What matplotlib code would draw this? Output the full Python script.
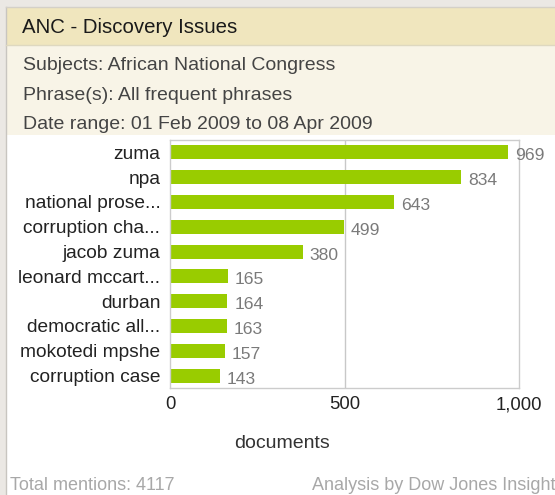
import matplotlib
matplotlib.use('Agg')
import matplotlib.pyplot as plt
import matplotlib.patches as mpatches

plt.rcParams['font.family'] = ['Liberation Sans', 'DejaVu Sans']

# data
phrases = ['zuma', 'npa', 'national prose...', 'corruption cha...', 'jacob zuma',
           'leonard mccart...', 'durban', 'democratic all...', 'mokotedi mpshe',
           'corruption case']
counts = [969, 834, 643, 499, 380, 165, 164, 163, 157, 143]
xticks = [0, 500, 1000]
xtick_labels = ['0', '500', '1,000']

W, H = 555, 495
fig = plt.figure(figsize=(W / 100, H / 100), dpi=100)
fig.patch.set_facecolor('white')

def fx(px):
    return px / W

def fy(py):
    return 1 - py / H

# background panels
fig.patches.append(mpatches.Rectangle((0, fy(7)), 1, 7 / H, transform=fig.transFigure,
                                      facecolor='#ebe8e4', edgecolor='none', zorder=0))
fig.patches.append(mpatches.Rectangle((0, 0), fx(6), 1, transform=fig.transFigure,
                                      facecolor='#ebe8e4', edgecolor='none', zorder=0))
fig.patches.append(mpatches.Rectangle((fx(6), fy(45)), 1, 38 / H, transform=fig.transFigure,
                                      facecolor='#f0e6be', edgecolor='none', zorder=0))
fig.patches.append(mpatches.Rectangle((fx(6), fy(135)), 1, 90 / H, transform=fig.transFigure,
                                      facecolor='#f8f4e7', edgecolor='none', zorder=0))
fig.add_artist(plt.Line2D([fx(6), fx(6)], [0, fy(7)], color='#c8c5c0', lw=1,
                          transform=fig.transFigure))
fig.add_artist(plt.Line2D([fx(6), 1], [fy(7), fy(7)], color='#d4d0c8', lw=1,
                          transform=fig.transFigure))
fig.add_artist(plt.Line2D([fx(6), 1], [fy(45), fy(45)], color='#ded8c0', lw=1,
                          transform=fig.transFigure))

# header texts
fig.text(fx(22), fy(33), 'ANC - Discovery Issues', fontsize=14.7, color='#1a1a1a',
         va='baseline', ha='left')
fig.text(fx(23), fy(70), 'Subjects: African National Congress', fontsize=14,
         color='#444444', va='baseline', ha='left')
fig.text(fx(23), fy(100), 'Phrase(s): All frequent phrases', fontsize=14,
         color='#444444', va='baseline', ha='left')
fig.text(fx(23), fy(129), 'Date range: 01 Feb 2009 to 08 Apr 2009', fontsize=14,
         color='#444444', va='baseline', ha='left')

# chart
ax = fig.add_axes([fx(170), fy(388), fx(519) - fx(170), (388 - 140) / H])
ypos = list(range(len(phrases)))
ax.barh(ypos, counts, height=0.56, color='#99cc00', zorder=2)
ax.set_xlim(0, 1000)
ax.set_ylim(len(phrases) - 0.5, -0.5)
ax.axvline(500, color='#c8c8c8', lw=1, zorder=1)
for y, v in zip(ypos, counts):
    ax.annotate(str(v), (v, y), xytext=(5, -2.5), textcoords='offset points',
                va='center', ha='left', fontsize=12.6, color='#7a7a7a',
                annotation_clip=False, zorder=3)
ax.set_yticks(ypos)
ax.set_yticklabels(phrases, fontsize=13.8, color='#222222')
ax.set_xticks(xticks)
ax.set_xticklabels(xtick_labels, fontsize=13.3, color='#222222')
ax.tick_params(axis='x', length=0, pad=6)
ax.tick_params(axis='y', length=0, pad=7)
for s in ax.spines.values():
    s.set_color('#cccccc')
    s.set_linewidth(1)

fig.text(fx(282), fy(448), 'documents', fontsize=14, color='#333333',
         va='baseline', ha='center')

# footer
fig.text(fx(10), fy(490), 'Total mentions: 4117', fontsize=13, color='#a8a8a8',
         va='baseline', ha='left')
fig.text(fx(555), fy(490), 'Analysis by Dow Jones Insight', fontsize=13, color='#a8a8a8',
         va='baseline', ha='right')

fig.savefig('out.png', dpi=100)
